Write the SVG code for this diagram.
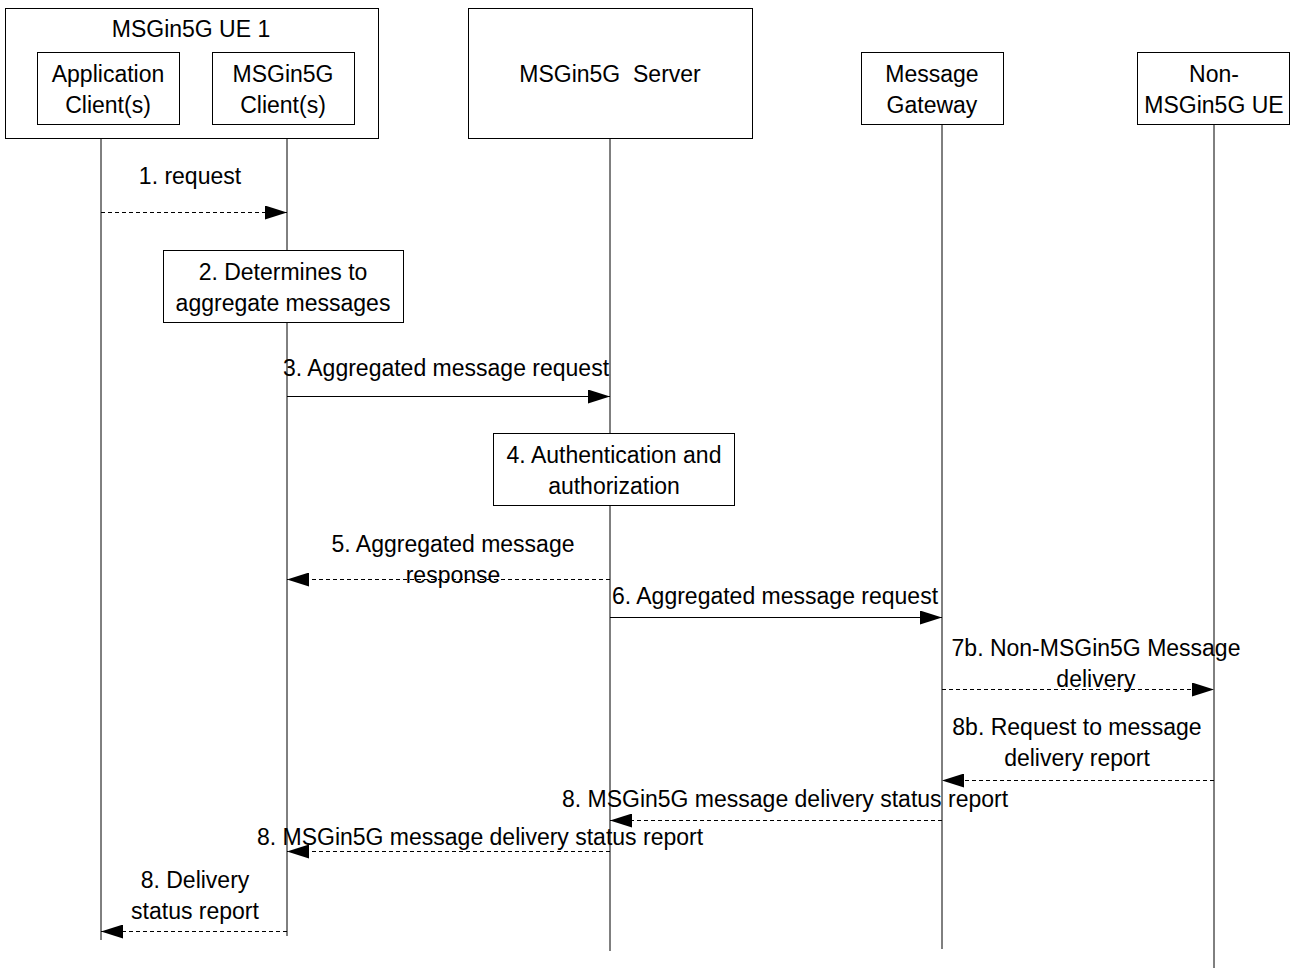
<svg xmlns="http://www.w3.org/2000/svg" width="1295" height="970" viewBox="0 0 1295 970">
<defs>
<marker id="ah" viewBox="0 0 22 14" refX="22" refY="7" markerWidth="22" markerHeight="14" markerUnits="userSpaceOnUse" orient="auto">
<path d="M0,0 L22,7 L0,14 Z" fill="#000"/>
</marker>
</defs>
<style>
text{font-family:"Liberation Sans",Arial,sans-serif;font-size:23px;fill:#000;text-anchor:middle}
.box{fill:#fff;stroke:#000;stroke-width:1}
.life{stroke:#000;stroke-width:1;fill:none}
.sol{stroke:#000;stroke-width:1;fill:none;marker-end:url(#ah)}
.dash{stroke:#000;stroke-width:1;fill:none;stroke-dasharray:4,3;marker-end:url(#ah)}
</style>
<rect width="1295" height="970" fill="#fff"/>
<g id="lifelines">
<line class="life" x1="101" y1="124" x2="101" y2="940"/>
<line class="life" x1="287" y1="124" x2="287" y2="936"/>
<line class="life" x1="610" y1="138" x2="610" y2="951"/>
<line class="life" x1="942" y1="124" x2="942" y2="949"/>
<line class="life" x1="1214" y1="124" x2="1214" y2="968"/>
</g>
<g id="ue1">
<rect class="box" x="5.5" y="8.5" width="373" height="130"/>
<text x="191" y="37">MSGin5G UE 1</text>
</g>
<g id="appclient">
<rect class="box" x="37.5" y="52.5" width="142" height="72"/>
<text x="108" y="82">Application</text>
<text x="108" y="113">Client(s)</text>
</g>
<g id="msgclient">
<rect class="box" x="212.5" y="52.5" width="142" height="72"/>
<text x="283" y="82">MSGin5G</text>
<text x="283" y="113">Client(s)</text>
</g>
<g id="server">
<rect class="box" x="468.5" y="8.5" width="284" height="130"/>
<text x="610" y="82" xml:space="preserve">MSGin5G  Server</text>
</g>
<g id="gateway">
<rect class="box" x="861.5" y="52.5" width="142" height="72"/>
<text x="932" y="82">Message</text>
<text x="932" y="113">Gateway</text>
</g>
<g id="nonue">
<rect class="box" x="1137.5" y="52.5" width="152" height="72"/>
<text x="1214" y="82">Non-</text>
<text x="1214" y="113">MSGin5G UE</text>
</g>
<g id="step2">
<rect class="box" x="163.5" y="250.5" width="240" height="72"/>
<text x="283" y="280">2. Determines to</text>
<text x="283" y="311">aggregate messages</text>
</g>
<g id="step4">
<rect class="box" x="493.5" y="433.5" width="241" height="72"/>
<text x="614" y="463">4. Authentication and</text>
<text x="614" y="494">authorization</text>
</g>
<g id="connectors">
<line class="dash" x1="101" y1="212.5" x2="287" y2="212.5"/>
<line class="sol" x1="287" y1="396.5" x2="610" y2="396.5"/>
<line class="dash" x1="610" y1="579.5" x2="287" y2="579.5"/>
<line class="sol" x1="610" y1="617.5" x2="942" y2="617.5"/>
<line class="dash" x1="942" y1="689.5" x2="1214" y2="689.5"/>
<line class="dash" x1="1214" y1="780.5" x2="942" y2="780.5"/>
<line class="dash" x1="942" y1="820.5" x2="610" y2="820.5"/>
<line class="dash" x1="610" y1="851.5" x2="287" y2="851.5"/>
<line class="dash" x1="287" y1="931.5" x2="101" y2="931.5"/>
</g>
<g id="labels">
<text x="190" y="184">1. request</text>
<text x="446" y="376">3. Aggregated message request</text>
<text x="453" y="552">5. Aggregated message</text>
<text x="453" y="583">response</text>
<text x="775" y="604">6. Aggregated message request</text>
<text x="1096" y="656">7b. Non-MSGin5G Message</text>
<text x="1096" y="687">delivery</text>
<text x="1077" y="735">8b. Request to message</text>
<text x="1077" y="766">delivery report</text>
<text x="785" y="807">8. MSGin5G message delivery status report</text>
<text x="480" y="845">8. MSGin5G message delivery status report</text>
<text x="195" y="888">8. Delivery</text>
<text x="195" y="919">status report</text>
</g>
</svg>
